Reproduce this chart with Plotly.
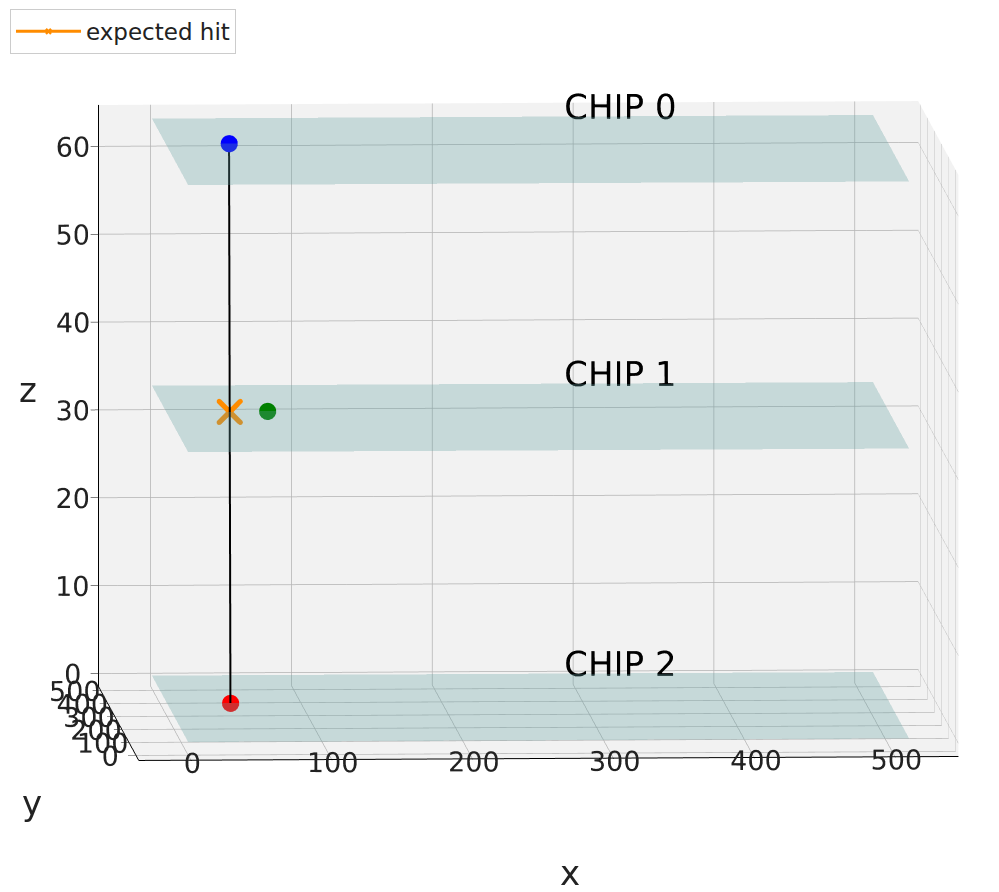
import plotly.graph_objects as go

# Detector planes (512 x 512 pixel chips) and their heights
chip_names = ["CHIP 0", "CHIP 1", "CHIP 2"]
chip_z = [63.4, 33.0, 0.0]
chip_x = [0, 512]
chip_y = [0, 512]

# Reconstructed track hits
hit_x = [45, 45]
hit_y = [318, 298]
hit_z = [63.4, 0.0]
hit_colors = ["blue", "red"]

# Measured hit on the middle chip and the expected crossing point
meas_x = [72]
meas_y = [312]
meas_z = [33.0]
exp_x = [45]
exp_y = [309]
exp_z = [33.0]

# Label anchor on each chip
label_x = 270
label_y = 512
label_lift = 1.2  # raise text so its baseline sits near the chip edge

x_ticks = [0, 100, 200, 300, 400, 500]
y_ticks = [0, 100, 200, 300, 400, 500]
z_ticks = [0, 10, 20, 30, 40, 50, 60]

fig = go.Figure()

plane_color = "rgb(95,158,160)"
for name, z in zip(chip_names, chip_z):
    fig.add_trace(go.Mesh3d(
        x=[chip_x[0], chip_x[1], chip_x[1], chip_x[0]],
        y=[chip_y[0], chip_y[0], chip_y[1], chip_y[1]],
        z=[z, z, z, z],
        i=[0, 0], j=[1, 2], k=[2, 3],
        color=plane_color, opacity=0.3, flatshading=True,
        lighting=dict(ambient=1, diffuse=0, specular=0, roughness=1, fresnel=0),
        hoverinfo="skip", showlegend=False,
    ))

# Track line through the first and last hit
fig.add_trace(go.Scatter3d(
    x=hit_x, y=hit_y, z=hit_z, mode="lines",
    line=dict(color="black", width=4), showlegend=False,
))
fig.add_trace(go.Scatter3d(
    x=hit_x, y=hit_y, z=hit_z, mode="markers",
    marker=dict(color=hit_colors, size=10, line=dict(width=0)), showlegend=False,
))
fig.add_trace(go.Scatter3d(
    x=meas_x, y=meas_y, z=meas_z, mode="markers",
    marker=dict(color="green", size=10, line=dict(width=0)), showlegend=False,
))
fig.add_trace(go.Scatter3d(
    x=exp_x, y=exp_y, z=exp_z, mode="lines+markers", name="expected hit",
    line=dict(color="darkorange", width=3),
    marker=dict(color="darkorange", size=6, symbol="x"),
))

# Chip labels
fig.add_trace(go.Scatter3d(
    x=[label_x] * len(chip_names), y=[label_y] * len(chip_names),
    z=[z + label_lift for z in chip_z],
    mode="text", text=chip_names, textposition="middle right",
    textfont=dict(size=34, color="black", family="DejaVu Sans"),
    showlegend=False, hoverinfo="skip",
))

axis_common = dict(
    showbackground=True,
    backgroundcolor="rgb(242,242,242)",
    gridcolor="rgb(178,178,178)",
    gridwidth=1.5,
    showline=True,
    linecolor="black",
    linewidth=2,
    ticks="outside",
    ticklen=8,
    tickcolor="black",
    tickangle=0,
    tickfont=dict(size=18, color="#222", family="DejaVu Sans"),
    zeroline=False,
    showspikes=False,
    title=dict(text=""),
)

fig.update_layout(
    width=999, height=892,
    margin=dict(l=0, r=0, t=0, b=0),
    paper_bgcolor="white",
    font=dict(family="DejaVu Sans", color="#222"),
    scene=dict(
        domain=dict(x=[0.0, 1.0], y=[0.0, 1.0]),
        xaxis=dict(range=[-37, 545], tickvals=x_ticks, **axis_common),
        yaxis=dict(range=[-39, 530], tickvals=y_ticks, **axis_common),
        zaxis=dict(range=[-1.5, 64.7], tickvals=z_ticks, **axis_common),
        aspectmode="manual",
        aspectratio=dict(x=1.84, y=1.75, z=1.31),
        camera=dict(
            eye=dict(x=-0.195, y=-2.52, z=0.206),
            center=dict(x=-0.065, y=0, z=-0.034),
            up=dict(x=0, y=0, z=1),
            projection=dict(type="orthographic"),
        ),
    ),
    showlegend=True,
    legend=dict(
        x=0.01, y=0.99, xanchor="left", yanchor="top",
        bgcolor="white", bordercolor="rgb(204,204,204)", borderwidth=1,
        itemwidth=65,
        font=dict(size=23, color="#222", family="DejaVu Sans"),
    ),
)

# Axis letters, positioned in page pixels
axis_letters = [("x", 570, 873), ("y", 32, 803), ("z", 28, 390)]
for letter, px, py in axis_letters:
    fig.add_annotation(
        text=letter, x=px / 999, y=1 - py / 892, xref="paper", yref="paper",
        xanchor="center", yanchor="middle", showarrow=False,
        font=dict(size=34, color="#222", family="DejaVu Sans"),
    )

fig.write_html("out.html")
